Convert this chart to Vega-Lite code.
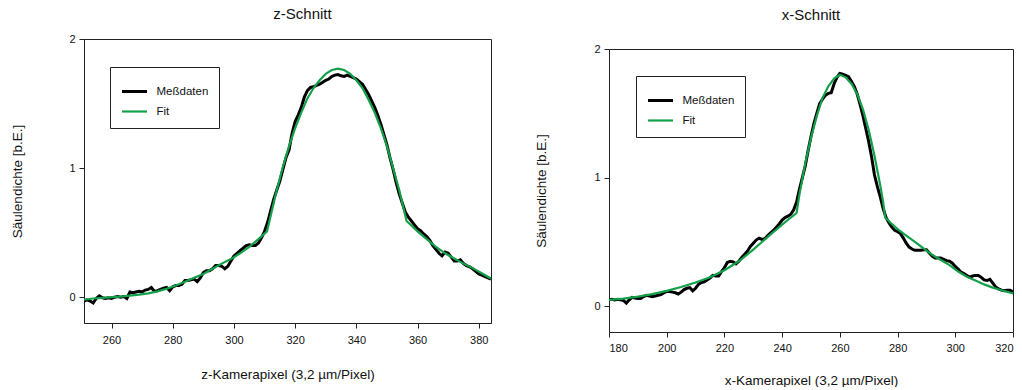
{
  "$schema": "https://vega.github.io/schema/vega-lite/v6.json",
  "padding": {"left": 10, "top": 6, "right": 0, "bottom": 0},
  "background": "white",
  "config": {
    "font": "Liberation Sans",
    "view": {"stroke": "#222", "strokeWidth": 1},
    "axis": {"grid": false, "domainColor": "#222", "tickColor": "#222", "tickSize": 5, "labelFontSize": 11, "labelColor": "#111", "labelFont": "Liberation Sans", "titleFont": "Liberation Sans", "titleFontSize": 13.5, "titleFontWeight": "normal", "titleColor": "#111"},
    "title": {"fontSize": 15, "fontWeight": "normal", "font": "Liberation Sans", "anchor": "middle", "color": "#111", "frame": "group"},
    "legend": {"orient": "none", "title": null, "strokeColor": "#222", "fillColor": "white", "padding": 10.5, "labelFontSize": 11.5, "labelFont": "Liberation Sans", "labelColor": "#111", "symbolType": "stroke", "symbolSize": 625, "labelOffset": 8, "rowPadding": 0}
  },
  "datasets": {
    "zData": [
      {"x":251,"y":-0.03},{"x":252,"y":-0.02},{"x":253,"y":-0.03},{"x":254,"y":-0.045},{"x":255,"y":-0.01},{"x":256,"y":0.01},{"x":257,"y":-0.005},{"x":258,"y":-0.01},{"x":259,"y":-0.005},{"x":260,"y":-0.01},
      {"x":261,"y":0.0},{"x":262,"y":0.005},{"x":263,"y":0.0},{"x":264,"y":0.005},{"x":265,"y":-0.01},{"x":266,"y":0.04},{"x":267,"y":0.035},{"x":268,"y":0.04},{"x":269,"y":0.045},{"x":270,"y":0.04},
      {"x":271,"y":0.055},{"x":272,"y":0.06},{"x":273,"y":0.075},{"x":274,"y":0.045},{"x":275,"y":0.05},{"x":276,"y":0.06},{"x":277,"y":0.07},{"x":278,"y":0.075},{"x":279,"y":0.05},{"x":280,"y":0.08},
      {"x":281,"y":0.09},{"x":282,"y":0.09},{"x":283,"y":0.1},{"x":284,"y":0.13},{"x":285,"y":0.13},{"x":286,"y":0.135},{"x":287,"y":0.14},{"x":288,"y":0.12},{"x":289,"y":0.15},{"x":290,"y":0.19},
      {"x":291,"y":0.205},{"x":292,"y":0.205},{"x":293,"y":0.22},{"x":294,"y":0.245},{"x":295,"y":0.245},{"x":296,"y":0.24},{"x":297,"y":0.22},{"x":298,"y":0.24},{"x":299,"y":0.28},{"x":300,"y":0.32},
      {"x":301,"y":0.34},{"x":302,"y":0.36},{"x":303,"y":0.38},{"x":304,"y":0.4},{"x":305,"y":0.405},{"x":306,"y":0.4},{"x":307,"y":0.4},{"x":308,"y":0.42},{"x":309,"y":0.46},{"x":310,"y":0.51},
      {"x":311,"y":0.58},{"x":312,"y":0.67},{"x":313,"y":0.76},{"x":314,"y":0.83},{"x":315,"y":0.9},{"x":316,"y":0.99},{"x":317,"y":1.08},{"x":318,"y":1.14},{"x":319,"y":1.27},{"x":320,"y":1.36},
      {"x":321,"y":1.41},{"x":322,"y":1.47},{"x":323,"y":1.55},{"x":324,"y":1.6},{"x":325,"y":1.625},{"x":326,"y":1.63},{"x":327,"y":1.64},{"x":328,"y":1.65},{"x":329,"y":1.665},{"x":330,"y":1.68},
      {"x":331,"y":1.69},{"x":332,"y":1.71},{"x":333,"y":1.72},{"x":334,"y":1.725},{"x":335,"y":1.715},{"x":336,"y":1.71},{"x":337,"y":1.72},{"x":338,"y":1.71},{"x":339,"y":1.7},{"x":340,"y":1.69},
      {"x":341,"y":1.67},{"x":342,"y":1.65},{"x":343,"y":1.61},{"x":344,"y":1.57},{"x":345,"y":1.52},{"x":346,"y":1.47},{"x":347,"y":1.41},{"x":348,"y":1.34},{"x":349,"y":1.26},{"x":350,"y":1.18},
      {"x":351,"y":1.08},{"x":352,"y":0.99},{"x":353,"y":0.89},{"x":354,"y":0.8},{"x":355,"y":0.73},{"x":356,"y":0.66},{"x":357,"y":0.62},{"x":358,"y":0.59},{"x":359,"y":0.56},{"x":360,"y":0.53},
      {"x":361,"y":0.515},{"x":362,"y":0.49},{"x":363,"y":0.47},{"x":364,"y":0.44},{"x":365,"y":0.4},{"x":366,"y":0.37},{"x":367,"y":0.34},{"x":368,"y":0.32},{"x":369,"y":0.35},{"x":370,"y":0.34},
      {"x":371,"y":0.31},{"x":372,"y":0.28},{"x":373,"y":0.28},{"x":374,"y":0.29},{"x":375,"y":0.26},{"x":376,"y":0.245},{"x":377,"y":0.235},{"x":378,"y":0.22},{"x":379,"y":0.2},{"x":380,"y":0.18},
      {"x":381,"y":0.17},{"x":382,"y":0.16},{"x":383,"y":0.15},{"x":384,"y":0.14}
    ],
    "zFit": [
      {"x":251,"y":-0.02},{"x":254,"y":-0.01},{"x":257,"y":-0.005},{"x":260,"y":0.0},{"x":263,"y":0.005},{"x":266,"y":0.012},{"x":269,"y":0.02},{"x":272,"y":0.03},{"x":275,"y":0.045},{"x":278,"y":0.065},
      {"x":281,"y":0.09},{"x":284,"y":0.12},{"x":287,"y":0.15},{"x":290,"y":0.18},{"x":293,"y":0.22},{"x":296,"y":0.26},{"x":299,"y":0.295},{"x":302,"y":0.34},{"x":305,"y":0.39},{"x":308,"y":0.45},
      {"x":310.8,"y":0.51},{"x":312,"y":0.63},{"x":314,"y":0.83},{"x":316,"y":1.01},{"x":318,"y":1.17},{"x":320,"y":1.31},{"x":322,"y":1.43},{"x":324,"y":1.54},{"x":326,"y":1.62},{"x":328,"y":1.68},
      {"x":330,"y":1.73},{"x":332,"y":1.76},{"x":334,"y":1.77},{"x":336,"y":1.76},{"x":338,"y":1.73},{"x":340,"y":1.68},{"x":342,"y":1.62},{"x":344,"y":1.53},{"x":346,"y":1.43},{"x":348,"y":1.31},
      {"x":350,"y":1.17},{"x":352,"y":1.0},{"x":354,"y":0.83},{"x":356,"y":0.63},{"x":356.4,"y":0.59},{"x":358,"y":0.555},{"x":360,"y":0.51},{"x":363,"y":0.45},{"x":366,"y":0.39},{"x":369,"y":0.34},
      {"x":372,"y":0.3},{"x":375,"y":0.26},{"x":378,"y":0.225},{"x":381,"y":0.185},{"x":384,"y":0.145}
    ],
    "xData": [
      {"x":180,"y":0.05},{"x":181,"y":0.055},{"x":182,"y":0.05},{"x":183,"y":0.055},{"x":184,"y":0.05},{"x":185,"y":0.045},{"x":186,"y":0.025},{"x":187,"y":0.05},{"x":188,"y":0.07},{"x":189,"y":0.065},
      {"x":190,"y":0.06},{"x":191,"y":0.06},{"x":192,"y":0.075},{"x":193,"y":0.085},{"x":194,"y":0.08},{"x":195,"y":0.075},{"x":196,"y":0.08},{"x":197,"y":0.085},{"x":198,"y":0.09},{"x":199,"y":0.105},
      {"x":200,"y":0.115},{"x":201,"y":0.115},{"x":202,"y":0.11},{"x":203,"y":0.105},{"x":204,"y":0.095},{"x":205,"y":0.11},{"x":206,"y":0.13},{"x":207,"y":0.14},{"x":208,"y":0.145},{"x":209,"y":0.12},
      {"x":210,"y":0.14},{"x":211,"y":0.17},{"x":212,"y":0.185},{"x":213,"y":0.19},{"x":214,"y":0.205},{"x":215,"y":0.22},{"x":216,"y":0.24},{"x":217,"y":0.235},{"x":218,"y":0.235},{"x":219,"y":0.27},
      {"x":220,"y":0.3},{"x":221,"y":0.34},{"x":222,"y":0.35},{"x":223,"y":0.345},{"x":224,"y":0.33},{"x":225,"y":0.35},{"x":226,"y":0.38},{"x":227,"y":0.405},{"x":228,"y":0.43},{"x":229,"y":0.465},
      {"x":230,"y":0.49},{"x":231,"y":0.515},{"x":232,"y":0.53},{"x":233,"y":0.52},{"x":234,"y":0.525},{"x":235,"y":0.55},{"x":236,"y":0.57},{"x":237,"y":0.59},{"x":238,"y":0.615},{"x":239,"y":0.64},
      {"x":240,"y":0.67},{"x":241,"y":0.69},{"x":242,"y":0.7},{"x":243,"y":0.715},{"x":244,"y":0.75},{"x":245,"y":0.81},{"x":246,"y":0.91},{"x":247,"y":1.0},{"x":248,"y":1.09},{"x":249,"y":1.21},
      {"x":250,"y":1.32},{"x":251,"y":1.42},{"x":252,"y":1.5},{"x":253,"y":1.575},{"x":254,"y":1.61},{"x":255,"y":1.64},{"x":256,"y":1.655},{"x":257,"y":1.66},{"x":258,"y":1.73},{"x":259,"y":1.78},
      {"x":260,"y":1.81},{"x":261,"y":1.805},{"x":262,"y":1.795},{"x":263,"y":1.785},{"x":264,"y":1.75},{"x":265,"y":1.71},{"x":266,"y":1.65},{"x":267,"y":1.57},{"x":268,"y":1.48},{"x":269,"y":1.38},
      {"x":270,"y":1.28},{"x":271,"y":1.16},{"x":272,"y":1.02},{"x":273,"y":0.93},{"x":274,"y":0.85},{"x":275,"y":0.76},{"x":276,"y":0.69},{"x":277,"y":0.65},{"x":278,"y":0.615},{"x":279,"y":0.59},
      {"x":280,"y":0.58},{"x":281,"y":0.565},{"x":282,"y":0.53},{"x":283,"y":0.49},{"x":284,"y":0.46},{"x":285,"y":0.445},{"x":286,"y":0.435},{"x":287,"y":0.435},{"x":288,"y":0.435},{"x":289,"y":0.44},
      {"x":290,"y":0.44},{"x":291,"y":0.415},{"x":292,"y":0.39},{"x":293,"y":0.375},{"x":294,"y":0.375},{"x":295,"y":0.375},{"x":296,"y":0.365},{"x":297,"y":0.355},{"x":298,"y":0.35},{"x":299,"y":0.335},
      {"x":300,"y":0.31},{"x":301,"y":0.29},{"x":302,"y":0.265},{"x":303,"y":0.255},{"x":304,"y":0.24},{"x":305,"y":0.225},{"x":306,"y":0.235},{"x":307,"y":0.24},{"x":308,"y":0.24},{"x":309,"y":0.225},
      {"x":310,"y":0.205},{"x":311,"y":0.2},{"x":312,"y":0.21},{"x":313,"y":0.18},{"x":314,"y":0.15},{"x":315,"y":0.135},{"x":316,"y":0.125},{"x":317,"y":0.12},{"x":318,"y":0.125},{"x":319,"y":0.125},
      {"x":320,"y":0.11}
    ],
    "xFit": [
      {"x":180,"y":0.05},{"x":185,"y":0.06},{"x":190,"y":0.075},{"x":195,"y":0.095},{"x":200,"y":0.12},{"x":205,"y":0.15},{"x":210,"y":0.185},{"x":215,"y":0.225},{"x":220,"y":0.28},{"x":225,"y":0.35},
      {"x":230,"y":0.44},{"x":235,"y":0.54},{"x":240,"y":0.635},{"x":243,"y":0.69},{"x":245,"y":0.725},{"x":246,"y":0.87},{"x":248,"y":1.11},{"x":250,"y":1.31},{"x":252,"y":1.48},{"x":254,"y":1.62},
      {"x":256,"y":1.71},{"x":258,"y":1.77},{"x":260,"y":1.8},{"x":262,"y":1.78},{"x":264,"y":1.73},{"x":266,"y":1.65},{"x":268,"y":1.53},{"x":270,"y":1.37},{"x":272,"y":1.17},{"x":274,"y":0.94},
      {"x":275,"y":0.81},{"x":275.7,"y":0.69},{"x":278,"y":0.64},{"x":280,"y":0.6},{"x":283,"y":0.55},{"x":286,"y":0.5},{"x":289,"y":0.45},{"x":292,"y":0.4},{"x":295,"y":0.36},{"x":298,"y":0.32},
      {"x":301,"y":0.27},{"x":304,"y":0.23},{"x":307,"y":0.2},{"x":310,"y":0.17},{"x":313,"y":0.145},{"x":316,"y":0.125},{"x":320,"y":0.1}
    ]
  },
  "spacing": 42,
  "resolve": {"scale": {"color": "independent", "strokeWidth": "independent"}, "legend": {"color": "independent", "strokeWidth": "independent"}},
  "hconcat": [
    {
      "width": 407,
      "height": 284,
      "title": {"text": "z-Schnitt", "offset": 11, "dx": 15},
      "encoding": {
        "x": {"field": "x", "type": "quantitative", "scale": {"domain": [251, 384], "nice": false, "zero": false}, "axis": {"values": [260, 280, 300, 320, 340, 360, 380], "title": "z-Kamerapixel (3,2 µm/Pixel)", "labelPadding": 6, "titlePadding": 22}},
        "y": {"field": "y", "type": "quantitative", "scale": {"domain": [-0.2, 2], "nice": false, "zero": false}, "axis": {"values": [0, 1, 2], "title": "Säulendichte [b.E.]", "labelPadding": 4, "titlePadding": 44}}
      },
      "layer": [
        {"data": {"name": "zData"}, "mark": {"type": "line", "clip": true}, "encoding": {"color": {"datum": "Meßdaten", "type": "nominal", "scale": {"domain": ["Meßdaten", "Fit"], "range": ["#000000", "#14a04a"]}, "legend": {"legendX": 26, "legendY": 28}}, "strokeWidth": {"datum": "Meßdaten", "type": "nominal", "scale": {"domain": ["Meßdaten", "Fit"], "range": [3, 2.2]}, "legend": {"legendX": 26, "legendY": 28}}}},
        {"data": {"name": "zFit"}, "mark": {"type": "line", "clip": true}, "encoding": {"color": {"datum": "Fit", "type": "nominal", "scale": {"domain": ["Meßdaten", "Fit"], "range": ["#000000", "#14a04a"]}, "legend": {"legendX": 26, "legendY": 28}}, "strokeWidth": {"datum": "Fit", "type": "nominal", "scale": {"domain": ["Meßdaten", "Fit"], "range": [3, 2.2]}, "legend": {"legendX": 26, "legendY": 28}}}}
      ]
    },
    {
      "width": 404,
      "height": 293,
      "view": {"stroke": null},
      "title": {"text": "x-Schnitt", "offset": 16},
      "resolve": {"axis": {"x": "independent", "y": "independent"}},
      "layer": [
        {"data": {"name": "xData"}, "mark": {"type": "line", "clip": true}, "encoding": {
          "x": {"field": "x", "type": "quantitative", "scale": {"domain": [180, 320], "nice": false, "zero": false}, "axis": {"values": [180, 200, 220, 240, 260, 280, 300, 320], "title": "x-Kamerapixel (3,2 µm/Pixel)", "labelPadding": 5, "titlePadding": 20}},
          "y": {"field": "y", "type": "quantitative", "scale": {"domain": [-0.2, 2], "nice": false, "zero": false, "range": [293, 10]}, "axis": {"values": [0, 1, 2], "title": "Säulendichte [b.E.]", "labelPadding": 4, "titlePadding": 45}},
          "color": {"datum": "Meßdaten", "type": "nominal", "scale": {"domain": ["Meßdaten", "Fit"], "range": ["#000000", "#14a04a"]}, "legend": {"legendX": 27, "legendY": 37}}, "strokeWidth": {"datum": "Meßdaten", "type": "nominal", "scale": {"domain": ["Meßdaten", "Fit"], "range": [3, 2.2]}, "legend": {"legendX": 27, "legendY": 37}}}},
        {"data": {"name": "xFit"}, "mark": {"type": "line", "clip": true}, "encoding": {
          "x": {"field": "x", "type": "quantitative", "axis": {"orient": "top", "offset": -10, "labels": false, "ticks": false, "title": null, "domain": true}},
          "y": {"field": "y", "type": "quantitative", "axis": {"orient": "right", "labels": false, "ticks": false, "title": null, "domain": true}},
          "color": {"datum": "Fit", "type": "nominal", "scale": {"domain": ["Meßdaten", "Fit"], "range": ["#000000", "#14a04a"]}, "legend": {"legendX": 27, "legendY": 37}}, "strokeWidth": {"datum": "Fit", "type": "nominal", "scale": {"domain": ["Meßdaten", "Fit"], "range": [3, 2.2]}, "legend": {"legendX": 27, "legendY": 37}}}}
      ]
    }
  ]
}
